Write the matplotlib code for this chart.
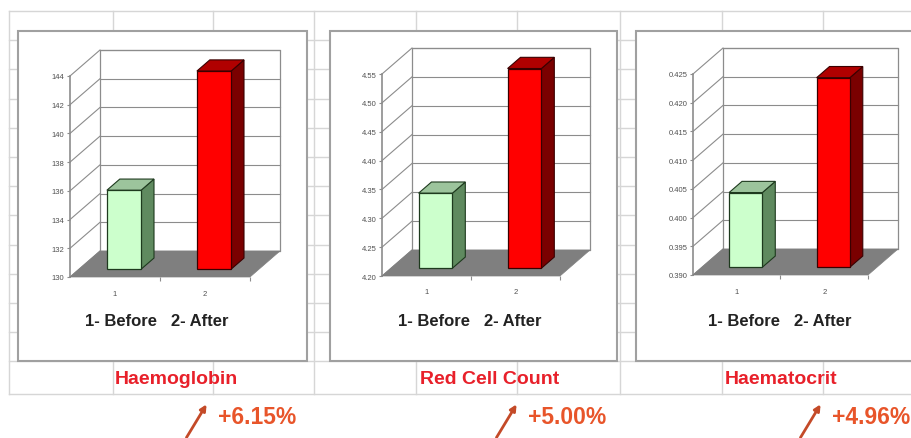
import matplotlib
matplotlib.use("Agg")
import matplotlib.pyplot as plt
from matplotlib.patches import Polygon, Rectangle

W, H = 912, 439

# --- data ---
measures = ["Haemoglobin", "Red Cell Count", "Haematocrit"]
before = [135.5, 4.33, 0.403]
after = [143.8, 4.546, 0.423]
changes = ["+6.15%", "+5.00%", "+4.96%"]
cat_ticks = ["1", "2"]
cat_text = "1- Before   2- After"
yticks = [
    [130, 132, 134, 136, 138, 140, 142, 144],
    [4.20, 4.25, 4.30, 4.35, 4.40, 4.45, 4.50, 4.55],
    [0.390, 0.395, 0.400, 0.405, 0.410, 0.415, 0.420, 0.425],
]
yfmt = ["{:.0f}", "{:.2f}", "{:.3f}"]

# layout in pixels (left, right, top, bottom of the front plane)
plot_boxes = [(70, 250, 77, 278), (382, 560, 75, 277), (693, 868, 75, 276)]
panel_boxes = [(18, 307), (330, 617), (636, 930)]
label_x = [115, 420, 725]
pct_x = [218, 528, 832]
cat_x = [157, 470, 780]
depth_px = (30, 26)

plt.rcParams["font.family"] = ["Liberation Sans", "DejaVu Sans"]

fig = plt.figure(figsize=(W / 100, H / 100), dpi=100)
bg = fig.add_axes([0, 0, 1, 1])
bg.set_xlim(0, W)
bg.set_ylim(H, 0)
bg.axis("off")

# spreadsheet grid
grid_c = "#d6d6d6"
rows = [12 + 29.2 * k for k in range(13)] + [395]
cols = [9, 113, 213, 314, 416, 517, 620, 722, 823]
for y in rows:
    bg.plot([9, W], [y, y], color=grid_c, lw=1, zorder=1)
for x in cols:
    bg.plot([x, x], [12, 395], color=grid_c, lw=1, zorder=1)

# chart panels
for (x0, x1) in panel_boxes:
    bg.add_patch(Rectangle((x0, 32), x1 - x0, 330, facecolor="white",
                           edgecolor="#a0a0a0", lw=1.5, zorder=2))

for i in range(3):
    left, right, top, bottom = plot_boxes[i]
    ax = fig.add_axes([left / W, 1 - bottom / H, (right - left) / W, (bottom - top) / H])
    ymin, ymax = yticks[i][0], yticks[i][-1]
    ax.set_xlim(0.5, 2.5)
    ax.set_ylim(ymin, ymax)
    ax.patch.set_alpha(0)
    for s in ["top", "right", "bottom"]:
        ax.spines[s].set_visible(False)
    ax.spines["left"].set_color("#8c8c8c")
    ax.spines["left"].set_linewidth(1.2)

    ddx = depth_px[0] * 2.0 / (right - left)
    ddy = depth_px[1] * (ymax - ymin) / (bottom - top)
    gc = "#8c8c8c"

    # back wall + gridlines
    ax.add_patch(Rectangle((0.5 + ddx, ymin + ddy), 2.0, ymax - ymin, facecolor="white",
                           edgecolor=gc, lw=0.9, clip_on=False, zorder=1))
    for t in yticks[i]:
        ax.plot([0.5 + ddx, 2.5 + ddx], [t + ddy, t + ddy], color=gc, lw=0.8, clip_on=False, zorder=2)
        ax.plot([0.5, 0.5 + ddx], [t, t + ddy], color=gc, lw=0.8, clip_on=False, zorder=2)

    # floor
    ax.add_patch(Polygon([(0.5, ymin), (2.5, ymin), (2.5 + ddx, ymin + ddy), (0.5 + ddx, ymin + ddy)],
                         closed=True, facecolor="#7f7f7f", edgecolor="#7f7f7f", lw=0.5,
                         clip_on=False, zorder=3))

    # bars
    f0, f1 = 0.3, 0.73
    bw = 0.38
    styles = [("#ccffcc", "#5f8a5f", "#9cc49c", "#1e3a1e"),
              ("#ff0000", "#7a0000", "#b00000", "#3a0000")]
    for j, v in enumerate([before[i], after[i]]):
        c = j + 1
        xl = c - bw / 2 + f0 * ddx
        xr = c + bw / 2 + f0 * ddx
        yb = ymin + f0 * ddy
        yt = v + f0 * ddy
        ox, oy = (f1 - f0) * ddx, (f1 - f0) * ddy
        front, side, topc, edge = styles[j]
        ax.add_patch(Polygon([(xr, yb), (xr + ox, yb + oy), (xr + ox, yt + oy), (xr, yt)],
                             closed=True, facecolor=side, edgecolor=edge, lw=0.8, clip_on=False, zorder=4))
        ax.add_patch(Polygon([(xl, yt), (xr, yt), (xr + ox, yt + oy), (xl + ox, yt + oy)],
                             closed=True, facecolor=topc, edgecolor=edge, lw=0.8, clip_on=False, zorder=4))
        ax.add_patch(Rectangle((xl, yb), xr - xl, yt - yb, facecolor=front, edgecolor=edge,
                               lw=0.9, clip_on=False, zorder=5))

    ax.set_yticks(yticks[i])
    ax.set_yticklabels([yfmt[i].format(t) for t in yticks[i]])
    ax.tick_params(axis="y", length=2, width=0.8, color=gc, labelsize=5.5, labelcolor="#505050", pad=2)
    ax.set_xticks([1, 2])
    ax.set_xticklabels(cat_ticks)
    ax.set_xticks([1.5, 2.5], minor=True)
    ax.tick_params(axis="x", which="major", length=0, labelsize=5.5, labelcolor="#505050", pad=9)
    ax.tick_params(axis="x", which="minor", length=3, width=0.8, color=gc)

    bg.text(cat_x[i], 322, cat_text, ha="center", va="center", fontsize=12,
            fontweight="bold", color="#222222", zorder=6)
    bg.text(label_x[i], 380, measures[i], ha="left", va="center", fontsize=14,
            fontweight="bold", color="#e8202a", zorder=6)
    bg.text(pct_x[i], 418, changes[i], ha="left", va="center", fontsize=16.5,
            fontweight="bold", color="#e8552a", zorder=6)
    ax0 = pct_x[i] - 33
    bg.annotate("", xy=(ax0 + 23, 403), xytext=(ax0, 441),
                arrowprops=dict(arrowstyle="-|>", color="#c44a28", lw=2, mutation_scale=9),
                annotation_clip=False, zorder=6)

fig.savefig("out.png", dpi=100)
